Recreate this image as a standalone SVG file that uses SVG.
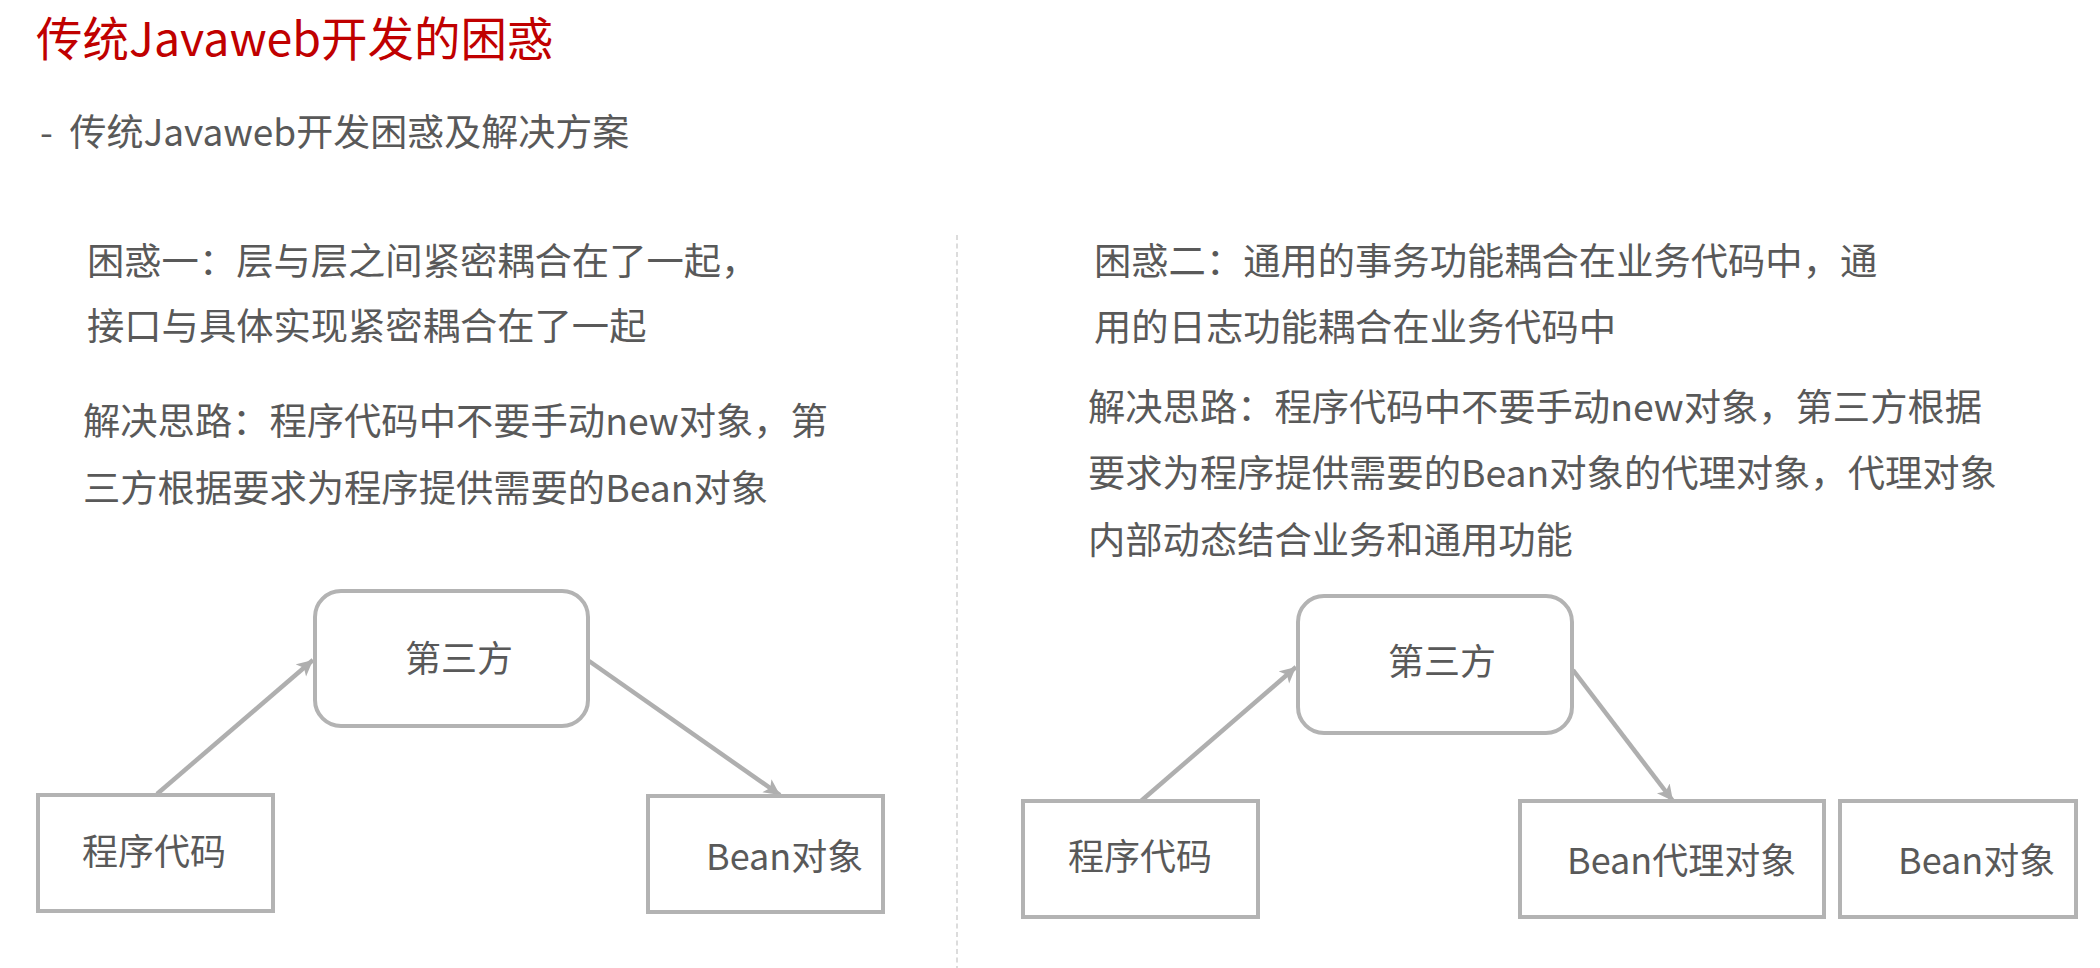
<svg xmlns="http://www.w3.org/2000/svg" width="2100" height="968" viewBox="0 0 2100 968">
<style>
  text { font-family: "Noto Sans CJK SC", "Noto Sans", sans-serif; fill: #595959; }
  .title { font-size: 46.5px; fill: #c00000; }
  .sub { font-size: 37px; }
  .body { font-size: 37.3px; }
  .lbl { font-size: 36px; }
  .box { fill: #ffffff; stroke: #b3b3b3; stroke-width: 4; }
  .conn { stroke: #afafaf; stroke-width: 4.5; fill: none; }
  .divider { stroke: #dcdcdc; stroke-width: 2; stroke-dasharray: 5 3.5; }
</style>
<defs>
  <marker id="arr" markerUnits="userSpaceOnUse" markerWidth="20" markerHeight="18" refX="16" refY="8" orient="auto">
    <path d="M0,0 L16,8 L0,16 L4,8 Z" fill="#afafaf"/>
  </marker>
</defs>
<rect x="0" y="0" width="2100" height="968" fill="#ffffff"/>

<g id="header">
  <text class="title" x="36" y="56">传统Javaweb开发的困惑</text>
  <text class="sub" x="40" y="146" xml:space="preserve">-  传统Javaweb开发困惑及解决方案</text>
</g>

<line class="divider" x1="957" y1="235" x2="957" y2="968"/>

<g id="left-text">
  <text class="body" x="87" y="275">困惑一：层与层之间紧密耦合在了一起，</text>
  <text class="body" x="87" y="340">接口与具体实现紧密耦合在了一起</text>
  <text class="body" x="83" y="435">解决思路：程序代码中不要手动new对象，第</text>
  <text class="body" x="83" y="502">三方根据要求为程序提供需要的Bean对象</text>
</g>

<g id="right-text">
  <text class="body" x="1094" y="275">困惑二：通用的事务功能耦合在业务代码中，通</text>
  <text class="body" x="1094" y="341">用的日志功能耦合在业务代码中</text>
  <text class="body" x="1088" y="421">解决思路：程序代码中不要手动new对象，第三方根据</text>
  <text class="body" x="1088" y="487">要求为程序提供需要的Bean对象的代理对象，代理对象</text>
  <text class="body" x="1088" y="554">内部动态结合业务和通用功能</text>
</g>

<g id="connectors">
  <line class="conn" x1="157" y1="794" x2="313" y2="660" marker-end="url(#arr)"/>
  <line class="conn" x1="589" y1="661" x2="780" y2="795" marker-end="url(#arr)"/>
  <line class="conn" x1="1141" y1="801" x2="1296" y2="667" marker-end="url(#arr)"/>
  <line class="conn" x1="1573" y1="670" x2="1673" y2="801" marker-end="url(#arr)"/>
</g>

<g id="l-third">
  <rect class="box" x="315" y="591" width="273" height="135" rx="26"/>
  <text class="lbl" x="459" y="672" text-anchor="middle">第三方</text>
</g>
<g id="l-code">
  <rect class="box" x="38" y="795" width="235" height="116"/>
  <text class="lbl" x="154" y="865" text-anchor="middle">程序代码</text>
</g>
<g id="l-bean">
  <rect class="box" x="648" y="796" width="235" height="116"/>
  <text class="lbl" x="706" y="870">Bean对象</text>
</g>

<g id="r-third">
  <rect class="box" x="1298" y="596" width="274" height="137" rx="26"/>
  <text class="lbl" x="1442" y="675" text-anchor="middle">第三方</text>
</g>
<g id="r-code">
  <rect class="box" x="1023" y="801" width="235" height="116"/>
  <text class="lbl" x="1140" y="870" text-anchor="middle">程序代码</text>
</g>
<g id="r-proxy">
  <rect class="box" x="1520" y="801" width="304" height="116"/>
  <text class="lbl" x="1567" y="874">Bean代理对象</text>
</g>
<g id="r-bean">
  <rect class="box" x="1840" y="801" width="236" height="116"/>
  <text class="lbl" x="1898" y="874">Bean对象</text>
</g>
</svg>
